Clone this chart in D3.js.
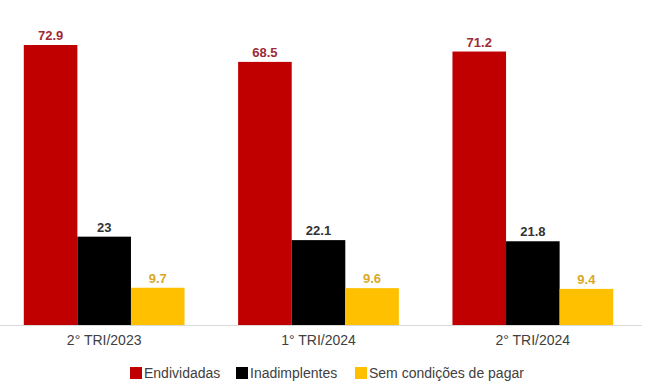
<!DOCTYPE html>
<html><head><meta charset="utf-8">
<script src="https://cdn.jsdelivr.net/npm/d3@7"></script>
<style>body{margin:0;background:#fff;}svg{display:block;font-family:"Liberation Sans",Arial,sans-serif;}</style>
</head><body>
<svg id="c" width="650" height="390"></svg>
<script>
const categories = ["2° TRI/2023", "1° TRI/2024", "2° TRI/2024"];
const seriesNames = ["Endividadas", "Inadimplentes", "Sem condições de pagar"];
const endividadas = [72.9, 68.5, 71.2];
const inadimplentes = [23, 22.1, 21.8];
const semCondicoes = [9.7, 9.6, 9.4];
const seriesColors = ["#c00000", "#000000", "#ffc000"];
const labelColors = ["#9e2a36", "#333333", "#d9a82a"];

const seriesValues = [endividadas, inadimplentes, semCondicoes];
const svg = d3.select("#c");
const baseY = 325;
const y = d3.scaleLinear().domain([0, 72.9]).range([baseY, 45]);
const x0 = d3.scaleBand().domain(categories).range([-3, 640]).paddingInner(0.25).paddingOuter(0.125);
const x1 = d3.scaleBand().domain(seriesNames).range([0, x0.bandwidth()]);

categories.forEach((cat, ci) => {
  const g = svg.append("g").attr("transform", `translate(${x0(cat)},0)`);
  seriesNames.forEach((s, si) => {
    const v = seriesValues[si][ci];
    g.append("rect").attr("x", x1(s)).attr("width", x1.bandwidth())
      .attr("y", y(v)).attr("height", baseY - y(v)).attr("fill", seriesColors[si]);
    g.append("text").attr("x", x1(s) + x1.bandwidth()/2).attr("y", y(v) - 5)
      .attr("text-anchor", "middle").attr("font-size", 13).attr("font-weight", "bold")
      .attr("fill", labelColors[si]).text(String(v));
  });
});

// axis
const axis = svg.append("g").attr("transform", `translate(0,${baseY})`)
  .call(d3.axisBottom(x0).tickSize(0).tickPadding(10));
axis.select(".domain").attr("stroke", "#d9d9d9").attr("d", "M0,0.5H642");
axis.selectAll("text").attr("font-size", 14).attr("fill", "#404040")
  .attr("font-family", "'Liberation Sans',Arial,sans-serif");

// legend
const legendX = [130, 236, 355];
const lg = svg.append("g");
seriesNames.forEach((s, i) => {
  lg.append("rect").attr("x", legendX[i]).attr("y", 367).attr("width", 12).attr("height", 12).attr("fill", seriesColors[i]);
  lg.append("text").attr("x", legendX[i] + 14).attr("y", 378).attr("font-size", 14).attr("fill", "#404040").text(s);
});
</script>
</body></html>
